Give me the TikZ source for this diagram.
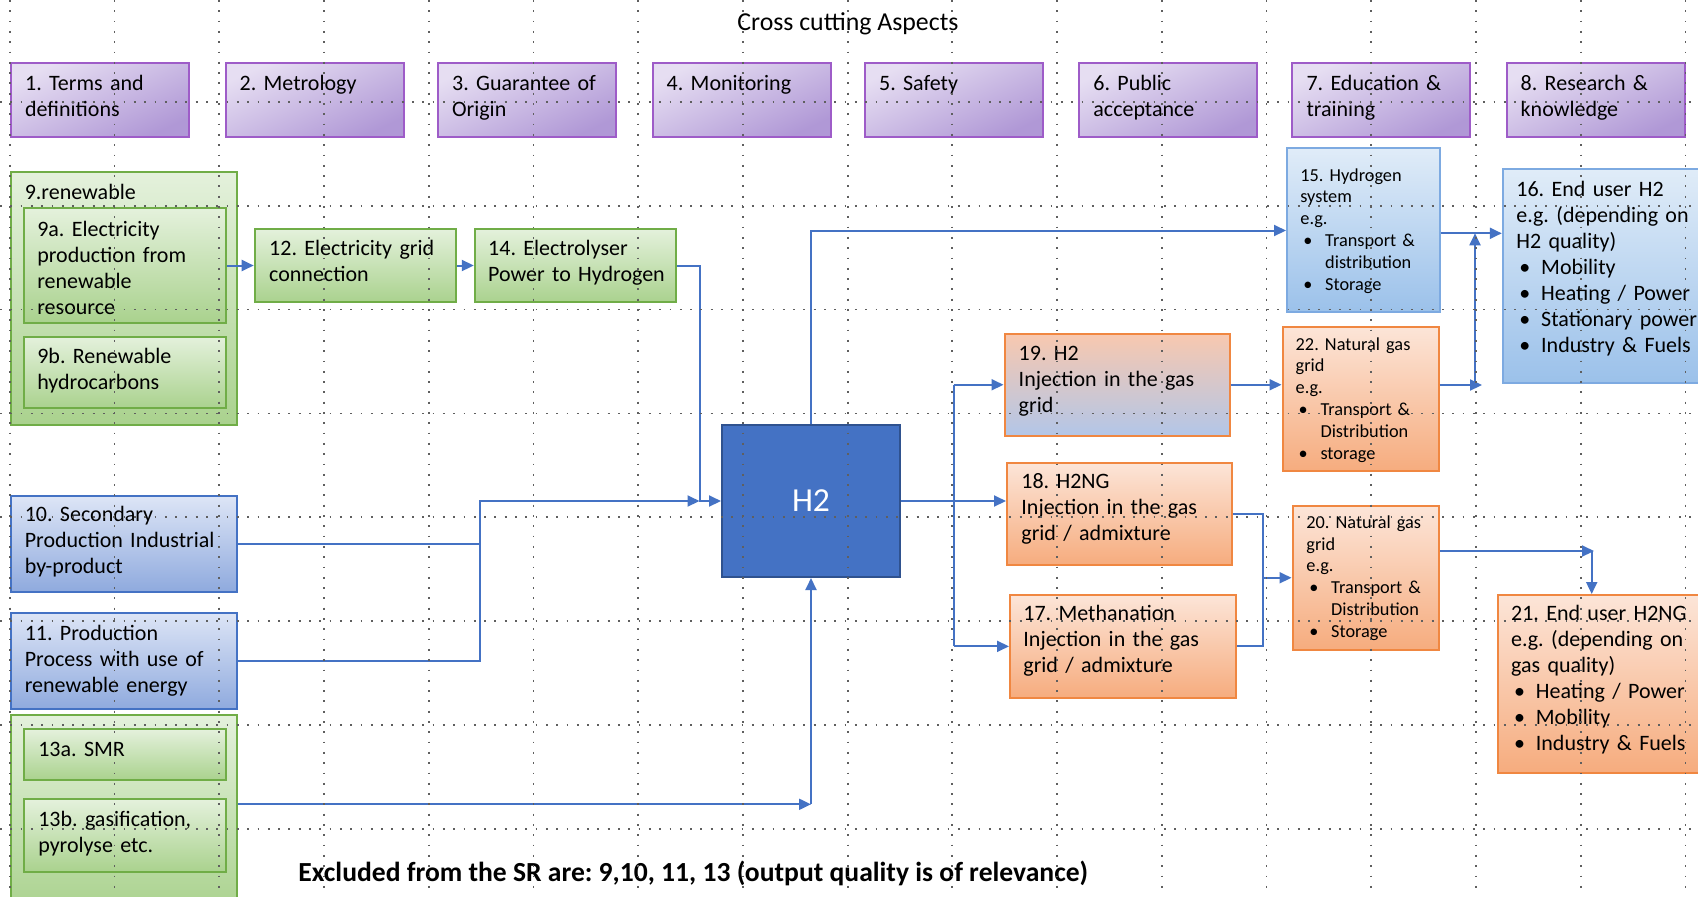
\documentclass[tikz,border=0pt]{standalone}
\usepackage{fontspec}
\setmainfont{Carlito}
\usetikzlibrary{arrows.meta,fit}
\definecolor{pbord}{RGB}{158,92,200}
\definecolor{ptop}{RGB}{230,222,242}
\definecolor{pbot}{RGB}{176,152,214}
\definecolor{gbord}{RGB}{112,173,71}
\definecolor{gtop}{RGB}{228,241,220}
\definecolor{gbot}{RGB}{170,210,142}
\definecolor{bbord}{RGB}{68,114,196}
\definecolor{btop}{RGB}{221,229,246}
\definecolor{bbot}{RGB}{143,170,222}
\definecolor{lbord}{RGB}{125,170,225}
\definecolor{ltop}{RGB}{224,236,248}
\definecolor{lbot}{RGB}{155,193,234}
\definecolor{obord}{RGB}{240,135,65}
\definecolor{otop}{RGB}{252,229,216}
\definecolor{obot}{RGB}{246,172,126}
\definecolor{mtop}{RGB}{248,200,175}
\definecolor{mbot}{RGB}{178,198,232}
\definecolor{hfill}{RGB}{68,114,196}
\definecolor{hbord}{RGB}{47,82,143}
\definecolor{conn}{RGB}{68,114,196}
\definecolor{gridc}{RGB}{95,95,95}
\newcommand\bulx{\makebox[12.4pt][l]{\hspace{1.5pt}•}}
\newcommand\indx{\hspace*{12.4pt}}
\begin{document}
\frenchspacing
\begin{tikzpicture}[x=0.5pt,y=-0.5pt,
  box/.style={draw, line width=1pt, inner sep=0pt},
  pbox/.style={box, draw=pbord, top color=ptop, bottom color=pbot, shading angle=25},
  gbox/.style={box, draw=gbord, top color=gtop, bottom color=gbot},
  bbox/.style={box, draw=bbord, top color=btop, bottom color=bbot},
  lbox/.style={box, draw=lbord, top color=ltop, bottom color=lbot},
  obox/.style={box, draw=obord, top color=otop, bottom color=obot},
  mbox/.style={box, draw=obord, top color=mtop, bottom color=mbot},
  hbox/.style={box, draw=hbord, fill=hfill},
  txt/.style={anchor=base west, inner sep=0pt, align=left, text width=120pt, font=\fontsize{11}{13}\selectfont},
  stxt/.style={txt, font=\fontsize{9.15}{10.9}\selectfont},
  conn/.style={draw=conn, line width=1pt},
  arr/.style={conn, -{Triangle[length=6pt,width=5.5pt]}},
  gridl/.style={draw=gridc, line width=0.9pt, dash pattern=on 0.9pt off 4.25pt}
]
\useasboundingbox (0,0) rectangle (1698,896);
\fill[white] (0,0) rectangle (1698,896);
\clip (0,0) rectangle (1698,896);

% title
\node[anchor=base west, inner sep=0pt, font=\fontsize{12.9}{15}\selectfont] (title) at (737,30) {Cross cutting Aspects};

% cross cutting aspects
\node[pbox, fit={(11,63.3) (189,136.7)}] (p1) {};
\node[pbox, fit={(225.5,63.3) (403.5,136.7)}] (p2) {};
\node[pbox, fit={(438,63.3) (616,136.7)}] (p3) {};
\node[pbox, fit={(652.6,63.3) (830.6,136.7)}] (p4) {};
\node[pbox, fit={(865,63.3) (1043,136.7)}] (p5) {};
\node[pbox, fit={(1079.3,63.3) (1257.3,136.7)}] (p6) {};
\node[pbox, fit={(1292.4,63.3) (1470.4,136.7)}] (p7) {};
\node[pbox, fit={(1506.6,63.3) (1684.6,136.7)}] (p8) {};
\node[txt] (tp1) at (24.7,90) {1. Terms and\\definitions};
\node[txt] (tp2) at (239.2,90) {2. Metrology};
\node[txt] (tp3) at (451.7,90) {3. Guarantee of\\Origin};
\node[txt] (tp4) at (666.3,90) {4. Monitoring};
\node[txt] (tp5) at (878.7,90) {5. Safety};
\node[txt] (tp6) at (1093,90) {6. Public\\acceptance};
\node[txt] (tp7) at (1306.1,90) {7. Education \&\\training};
\node[txt] (tp8) at (1520.3,90) {8. Research \&\\knowledge};

% left column
\node[gbox, fit={(10.8,171.7) (237.4,425)}] (b9) {};
\node[txt] (t9) at (24.4,199) {9.renewable};
\node[gbox, fit={(24.4,208.3) (226,322.5)}] (b9a) {};
\node[txt] (t9a) at (36.9,236) {9a. Electricity\\production from\\renewable\\resource};
\node[gbox, fit={(24.4,336.7) (226,408.3)}] (b9b) {};
\node[txt] (t9b) at (36.9,363.3) {9b. Renewable\\hydrocarbons};
\node[gbox, fit={(254.7,228.7) (456.4,302.3)}] (b12) {};
\node[txt] (t12) at (268.8,255) {12. Electricity grid\\connection};
\node[gbox, fit={(474.8,228.7) (676.4,302.3)}] (b14) {};
\node[txt] (t14) at (487.8,255) {14. Electrolyser\\Power to Hydrogen};
\node[bbox, fit={(10.8,496) (237.4,591.7)}] (b10) {};
\node[txt] (t10) at (24.4,521.7) {10. Secondary\\Production Industrial\\by-product};
\node[bbox, fit={(10.8,612.7) (237.4,709.3)}] (b11) {};
\node[txt] (t11) at (24.4,640) {11. Production\\Process with use of\\renewable energy};
\node[gbox, fit={(10.8,715) (237.4,912)}] (b13) {};
\node[gbox, fit={(24.4,729.3) (226,780)}] (b13a) {};
\node[txt] (t13a) at (37.9,756.7) {13a. SMR};
\node[gbox, fit={(24.4,799.3) (226,871.7)}] (b13b) {};
\node[txt] (t13b) at (37.9,826.7) {13b. gasification,\\pyrolyse etc.};

% H2
\node[hbox, fit={(722,425) (900,577)}] (bh2) {};
\node[text=white, inner sep=0pt, font=\fontsize{16.8}{20}\selectfont] (th2) at (bh2.center) {H2};

% right side
\node[lbox, fit={(1287,148.3) (1439.5,312.3)}] (b15) {};
\node[stxt] (t15) at (1300,181) {15. Hydrogen\\system\\e.g.\\\bulx Transport \&\\\indx distribution\\\bulx Storage};
\node[lbox, fit={(1502.8,169) (1712,383)}] (b16) {};
\node[txt] (t16) at (1516,196) {16. End user H2\\e.g. (depending on\\H2 quality)\\\bulx Mobility\\\bulx Heating / Power\\\bulx Stationary power\\\bulx Industry \& Fuels};
\node[mbox, fit={(1004.5,333.5) (1229.5,436)}] (b19) {};
\node[txt] (t19) at (1018.3,360.7) {19. H2\\Injection in the gas\\grid};
\node[obox, fit={(1282.5,326.7) (1438.7,471.3)}] (b22) {};
\node[stxt] (t22) at (1295.3,350) {22. Natural gas\\grid\\e.g.\\\bulx Transport \&\\\indx Distribution\\\bulx storage};
\node[obox, fit={(1007,462.5) (1232.2,565)}] (b18) {};
\node[txt] (t18) at (1021,488) {18. H2NG\\Injection in the gas\\grid / admixture};
\node[obox, fit={(1010,595) (1235.6,697.7)}] (b17) {};
\node[txt] (t17) at (1023,620.7) {17. Methanation\\Injection in the gas\\grid / admixture};
\node[obox, fit={(1292.5,506) (1439.4,649.5)}] (b20) {};
\node[stxt] (t20) at (1306,528.3) {20. Natural gas\\grid\\e.g.\\\bulx Transport \&\\\indx Distribution\\\bulx Storage};
\node[obox, fit={(1497.5,595) (1712,772.5)}] (b21) {};
\node[txt] (t21) at (1510.7,620) {21. End user H2NG\\e.g. (depending on\\gas quality)\\\bulx Heating / Power\\\bulx Mobility\\\bulx Industry \& Fuels};

% bottom note
\node[anchor=base west, inner sep=0pt, font=\bfseries\fontsize{13.8}{16}\selectfont] (note) at (298,881.7) {Excluded from the SR are: 9,10, 11, 13 (output quality is of relevance)};

% junction coordinates
\coordinate (j1) at (699.5,501);
\coordinate (j2) at (479.7,501);
\coordinate (j3) at (811,804.3);
\coordinate (j4) at (811,230.5);
\coordinate (j5) at (1475,233.3);
\coordinate (j6) at (1475,385);
\coordinate (j6e) at (1482,385);
\coordinate (j7) at (953.8,384.75);
\coordinate (j8) at (953.8,646.35);
\coordinate (j9) at (1263.3,513.75);
\coordinate (j10) at (1591.7,551);
\coordinate (j10e) at (1594,551);

% connectors
\draw[arr] (b9a.east |- b12.west) -- (b12.west);
\draw[arr] (b12.east) -- (b14.west);
\draw[arr] (b14.east) -| (j1) -- (bh2.west);
\draw[arr] (b10.east) -| (j2) -- (j1);
\draw[conn] (b11.east) -| (j2 |- b10.east);
\draw[arr] (b13.east |- j3) -- (j3);
\draw[arr] (j3) -- (bh2.south);
\draw[arr] (bh2.north) -- (j4) -- (b15.west |- j4);
\draw[arr] (b15.east |- j5) -- (b16.west |- j5);
\draw[arr] (b22.east |- j6) -- (j6e);
\draw[arr] (j6) -- (j5);
\draw[arr] (b19.east) -- (b22.west |- b19.east);
\draw[arr] (bh2.east) -- (b18.west |- bh2.east);
\draw[conn] (j7) -- (j8);
\draw[arr] (j7) -- (b19.west);
\draw[arr] (j8) -- (b17.west);
\draw[conn] (b18.east) -| (j9 |- b17.east) -- (b17.east);
\draw[arr] (j9 |- b20.west) -- (b20.west);
\draw[arr] (b20.east |- j10) -- (j10e);
\draw[arr] (j10) -- (j10 |- b21.north);

% grid
\foreach \k in {0,...,16} \draw[gridl] ({9.8+104.73*\k},0) -- ({9.8+104.73*\k},896);
\foreach \k in {0,...,7} \draw[gridl] (0,{101.7+103.9*\k}) -- (1698,{101.7+103.9*\k});
\end{tikzpicture}
\end{document}
